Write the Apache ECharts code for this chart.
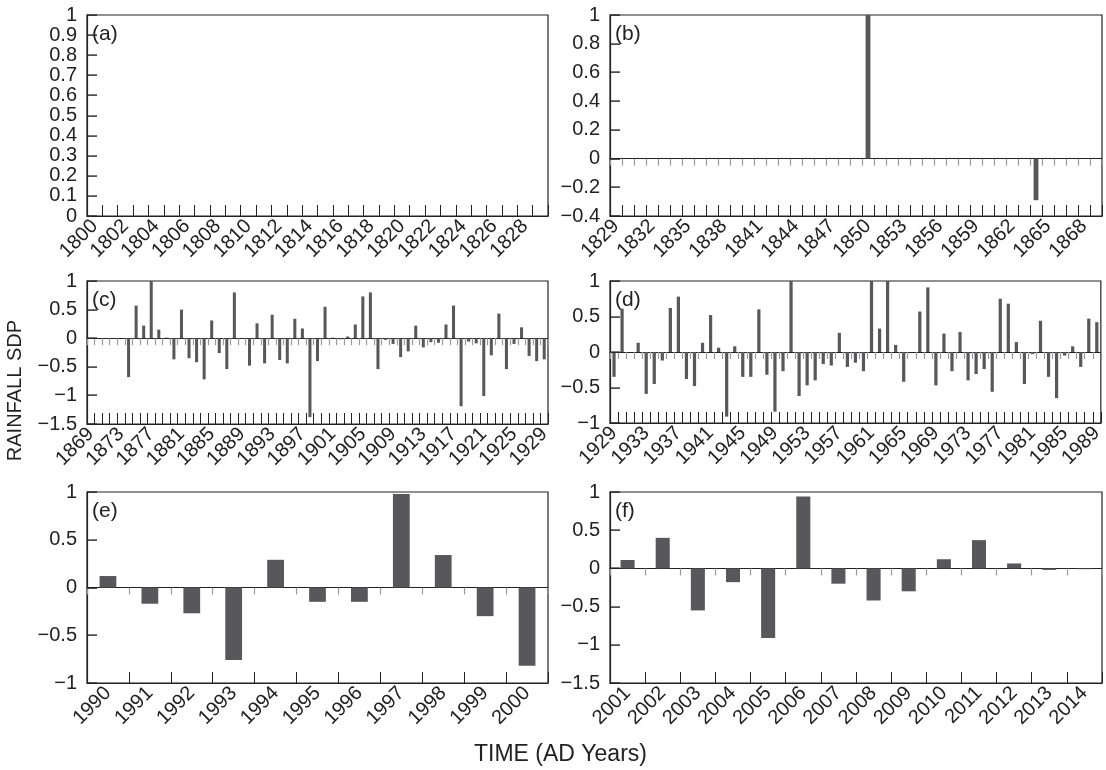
<!DOCTYPE html>
<html>
<head>
<meta charset="utf-8">
<script src="https://cdn.jsdelivr.net/npm/echarts@6/dist/echarts.min.js"></script>
<style>
  html, body { margin: 0; padding: 0; background: #fff; }
  #chart { width: 1106px; height: 770px; }
</style>
</head>
<body>
<div id="chart"></div>
<script>
  // years for each panel
  function years (from, to) {
    let out = []
    for (let y = from; y <= to; y++) out.push(String(y))
    return out
  }
  let yearsA = years(1800, 1829)
  let yearsB = years(1829, 1869)
  let yearsC = years(1869, 1929)
  let yearsD = years(1929, 1989)
  let yearsE = years(1990, 2000)
  let yearsF = years(2001, 2014)

  // rainfall SDP
  let sdpA = [0, 0, 0, 0, 0, 0, 0, 0, 0, 0, 0, 0, 0, 0, 0, 0, 0, 0, 0, 0, 0, 0, 0, 0, 0, 0, 0, 0, 0, 0]
  let sdpB = [0, 0, 0, 0, 0, 0, 0, 0, 0, 0, 0, 0, 0, 0, 0, 0, 0, 0, 0, 0, 0, 1.0, 0, 0, 0, 0, 0, 0, 0, 0,
    0, 0, 0, 0, 0, -0.29, 0, 0, 0, 0, 0]
  let sdpC = [0, 0, 0, 0, 0, -0.68, 0.57, 0.22, 1.0, 0.15, 0.01, -0.37, 0.50, -0.35, -0.42, -0.72, 0.31, -0.26, -0.54, 0.80,
    0, -0.48, 0.26, -0.44, 0.41, -0.38, -0.44, 0.34, 0.17, -1.38, -0.40, 0.55, 0.01, -0.02, 0.03, 0.24, 0.73, 0.80, -0.54, -0.03,
    -0.10, -0.33, -0.23, 0.22, -0.16, -0.07, -0.08, 0.24, 0.57, -1.19, -0.06, -0.09, -1.01, -0.30, 0.43, -0.54, -0.10, 0.19, -0.31, -0.40,
    -0.37]
  let sdpD = [-0.35, 0.61, 0, 0.13, -0.59, -0.45, -0.12, 0.62, 0.78, -0.38, -0.48, 0.13, 0.52, 0.06, -0.91, 0.08, -0.35, -0.35, 0.60, -0.32,
    -0.84, -0.27, 1.0, -0.62, -0.47, -0.40, -0.17, -0.19, 0.27, -0.21, -0.15, -0.27, 1.0, 0.33, 1.0, 0.10, -0.42, 0, 0.57, 0.91,
    -0.47, 0.26, -0.27, 0.28, -0.40, -0.31, -0.24, -0.56, 0.75, 0.68, 0.14, -0.45, -0.03, 0.44, -0.35, -0.65, -0.05, 0.08, -0.21, 0.47,
    0.42]
  let sdpE = [0.12, -0.17, -0.27, -0.76, 0.29, -0.15, -0.15, 0.98, 0.34, -0.30, -0.82]
  let sdpF = [0.11, 0.40, -0.55, -0.18, -0.91, 0.94, -0.20, -0.42, -0.30, 0.12, 0.37, 0.065, -0.02, -0.01]

  // y tick values of each panel
  let ticksA = [0, 0.1, 0.2, 0.3, 0.4, 0.5, 0.6, 0.7, 0.8, 0.9, 1]
  let ticksB = [-0.4, -0.2, 0, 0.2, 0.4, 0.6, 0.8, 1]
  let ticksC = [-1.5, -1, -0.5, 0, 0.5, 1]
  let ticksD = [-1, -0.5, 0, 0.5, 1]
  let ticksE = [-1, -0.5, 0, 0.5, 1]
  let ticksF = [-1.5, -1, -0.5, 0, 0.5, 1]

  let ink = '#222'
  let barColor = '#58585a'
  let font = 'Liberation Sans, Arial, sans-serif'

  let panels = [
    {tag: '(a)', cats: yearsA, data: sdpA, ticks: ticksA, step: 0.1, every: 2, zero: false,
      grid: {left: 87, right: 558, top: 15, height: 201}},
    {tag: '(b)', cats: yearsB, data: sdpB, ticks: ticksB, step: 0.2, every: 3, zero: true,
      grid: {left: 610, right: 4, top: 15, height: 201}},
    {tag: '(c)', cats: yearsC, data: sdpC, ticks: ticksC, step: 0.5, every: 4, zero: true,
      grid: {left: 87, right: 558, top: 281, height: 143}},
    {tag: '(d)', cats: yearsD, data: sdpD, ticks: ticksD, step: 0.5, every: 4, zero: true,
      grid: {left: 610, right: 4, top: 281, height: 142}},
    {tag: '(e)', cats: yearsE, data: sdpE, ticks: ticksE, step: 0.5, every: 1, zero: true,
      grid: {left: 87, right: 558, top: 492, height: 191}},
    {tag: '(f)', cats: yearsF, data: sdpF, ticks: ticksF, step: 0.5, every: 1, zero: true,
      grid: {left: 610, right: 4, top: 492, height: 191}}
  ]

  let grids = []
  let xAxes = []
  let yAxes = []
  let series = []
  let graphics = []
  let off = {show: false}

  // short inward tick on the left axis, drawn as a thin filled rect
  function renderTick (params, api) {
    let pt = api.coord([0, api.value(1)])
    let x0 = params.coordSys.x
    return {
      type: 'rect',
      shape: {x: x0, y: Math.round(pt[1]) - 0.6, width: 10, height: 1.4},
      style: {fill: ink}
    }
  }

  panels.forEach((p, i) => {
    grids.push(Object.assign({show: true, borderColor: ink, borderWidth: 1.2, backgroundColor: 'transparent'}, p.grid))
    let mainIndex = xAxes.length
    xAxes.push({
      gridIndex: i,
      type: 'category',
      data: p.cats,
      position: 'bottom',
      axisLine: {onZero: false, lineStyle: {color: ink, width: 1.2}},
      axisTick: {show: true, inside: true, length: 11, interval: 0, lineStyle: {color: ink, width: 1}},
      axisLabel: {rotate: 45, interval: p.every - 1, fontSize: 20, color: ink, fontFamily: font, margin: 7},
      splitLine: off,
      splitArea: off
    })
    // zero line with the small grey ticks
    if (p.zero) {
      xAxes.push({
        gridIndex: i,
        type: 'category',
        data: p.cats,
        position: 'bottom',
        axisLine: {onZero: true, onZeroAxisIndex: i, lineStyle: {color: ink, width: 1.2}},
        axisTick: {show: true, inside: false, length: 7, interval: 0, lineStyle: {color: '#999', width: 1.2}},
        axisLabel: off,
        splitLine: off,
        splitArea: off
      })
    }
    yAxes.push({
      gridIndex: i,
      type: 'value',
      min: p.ticks[0],
      max: p.ticks[p.ticks.length - 1],
      interval: p.step,
      axisLine: {show: true, onZero: false, lineStyle: {color: ink, width: 1.2}},
      axisTick: off,
      axisLabel: {
        fontSize: 20, color: ink, fontFamily: font, margin: 10,
        formatter: v => String(+v.toFixed(2)).replace('-', '\u2212')
      },
      splitLine: off,
      splitArea: off
    })
    series.push({
      type: 'bar',
      xAxisIndex: mainIndex,
      yAxisIndex: i,
      data: p.data,
      barWidth: '40%',
      itemStyle: {color: barColor},
      silent: true
    })
    series.push({
      type: 'custom',
      xAxisIndex: mainIndex,
      yAxisIndex: i,
      data: p.ticks.map(v => [0, v]),
      encode: {x: 0, y: 1},
      renderItem: renderTick,
      clip: false,
      silent: true,
      z: 5
    })
    graphics.push({
      type: 'text',
      left: p.grid.left + 5,
      top: p.grid.top + 9,
      style: {text: p.tag, fontSize: 21, fill: ink, fontFamily: font}
    })
  })

  graphics.push({
    type: 'text',
    left: 5,
    top: 320,
    rotation: Math.PI / 2,
    style: {text: 'RAINFALL SDP', fontSize: 20, fill: ink, fontFamily: font}
  })
  graphics.push({
    type: 'text',
    left: 474,
    top: 743,
    style: {text: 'TIME (AD Years)', fontSize: 23, fill: ink, fontFamily: font}
  })

  let myChart = echarts.init(document.getElementById('chart'))
  myChart.setOption({
    animation: false,
    backgroundColor: '#fff',
    grid: grids,
    xAxis: xAxes,
    yAxis: yAxes,
    series: series,
    graphic: graphics
  })
</script>
</body>
</html>
